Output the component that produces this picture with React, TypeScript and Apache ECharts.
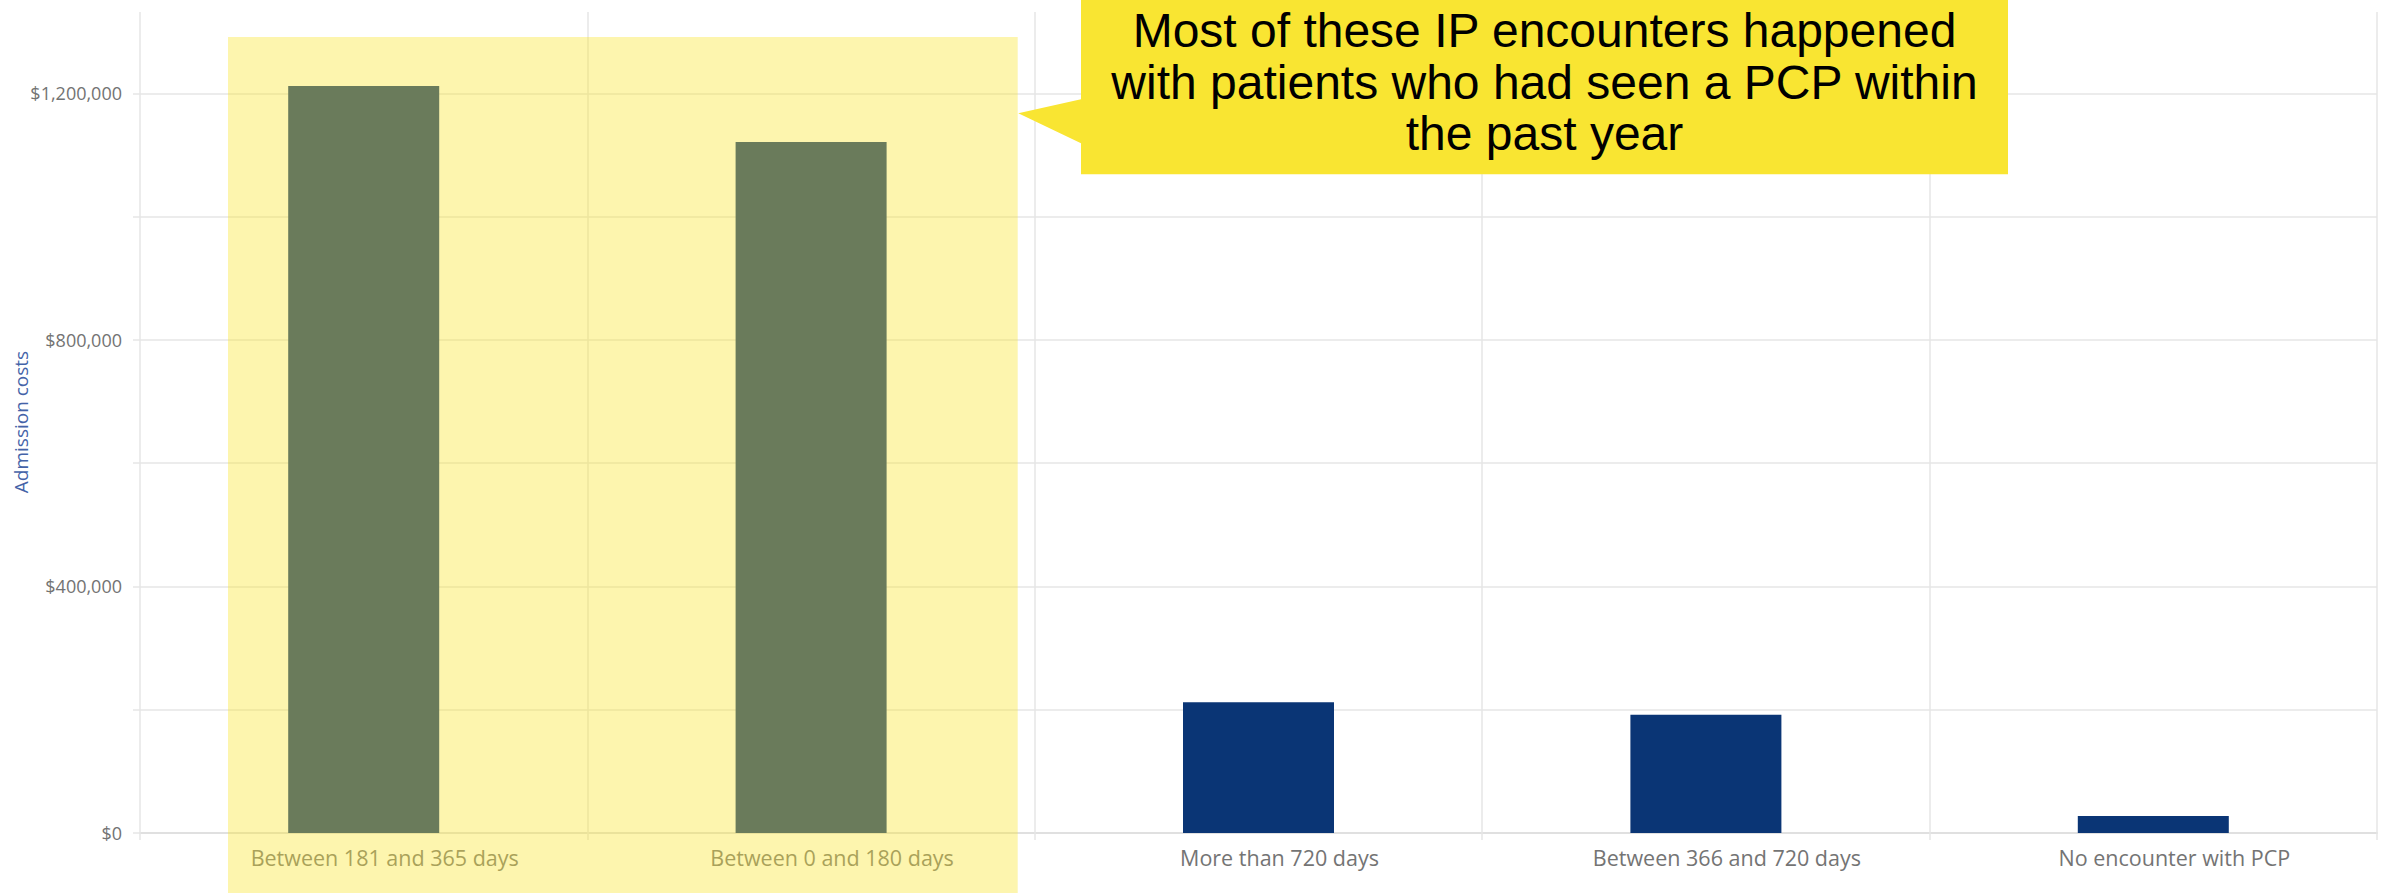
import React, { useEffect, useRef } from "react";
import * as echarts from "echarts";

const categories = [
  "Between 181 and 365 days",
  "Between 0 and 180 days",
  "More than 720 days",
  "Between 366 and 720 days",
  "No encounter with PCP",
];
const admissionCosts = [1212000, 1121000, 212000, 192000, 27500];
const yLabelledTicks = [0, 400000, 800000, 1200000];
const yAxisName = "Admission costs";
const calloutLines = [
  "Most of these IP encounters happened",
  "with patients who had seen a PCP within",
  "the past year",
];

const GRID = "#e6e6e6";
// the chart canvas is shifted up by OFF px so the unlabelled top gridline sits off-page
const OFF = 30;

export default function App() {
  const ref = useRef<HTMLDivElement>(null);
  useEffect(() => {
    document.body.style.margin = "0";
    document.body.style.overflow = "hidden";
    const chart = echarts.init(ref.current!, null, { renderer: "svg" });
    const fmt = (v: number) => "$" + v.toLocaleString("en-US");
    chart.setOption({
      animation: false,
      backgroundColor: "#ffffff",
      grid: {
        left: 140,
        right: 17,
        top: 0,
        bottom: 60,
        containLabel: false,
        outerBoundsMode: "none",
      },
      xAxis: [
        {
          type: "category",
          data: categories,
          boundaryGap: true,
          axisLine: { show: true, lineStyle: { color: "#e0e0e0", width: 2 } },
          axisTick: {
            show: true,
            inside: true,
            length: 821,
            interval: 0,
            lineStyle: { color: GRID, width: 1.5 },
          },
          axisLabel: {
            interval: 0,
            margin: 13,
            color: "#747474",
            fontFamily: "Open Sans",
            fontSize: 21.5,
            padding: [0, 0, 0, 42],
          },
          splitLine: { show: false },
        },
        {
          type: "category",
          data: categories,
          position: "bottom",
          axisLine: { show: false },
          axisTick: { show: true, length: 7, interval: 0, lineStyle: { color: GRID, width: 1.5 } },
          axisLabel: { show: false },
          splitLine: { show: false },
        },
      ],
      yAxis: {
        type: "value",
        min: 0,
        max: 1400000,
        interval: 200000,
        axisLine: { show: false },
        axisTick: { show: true, length: 7, lineStyle: { color: GRID, width: 1.5 } },
        splitLine: { show: true, lineStyle: { color: GRID, width: 1.5 } },
        axisLabel: {
          margin: 18,
          color: "#737373",
          fontFamily: "Open Sans",
          fontSize: 18,
          formatter: (v: number) => (yLabelledTicks.includes(v) ? fmt(v) : ""),
        },
      },
      series: [
        {
          type: "bar",
          data: admissionCosts,
          barWidth: 151,
          itemStyle: { color: "#0a3575" },
        },
      ],
      graphic: [
        {
          type: "rect",
          z: 100,
          shape: { x: 228, y: 37 + OFF, width: 789.7, height: 860 },
          style: { fill: "rgba(249,230,52,0.4)" },
        },
        {
          type: "polygon",
          z: 100,
          shape: {
            points: [
              [1081, 0],
              [2008, 0],
              [2008, 174.3 + OFF],
              [1081, 174.3 + OFF],
              [1081, 143.3 + OFF],
              [1018.3, 113.3 + OFF],
              [1081, 99.3 + OFF],
            ],
          },
          style: { fill: "#f9e532" },
        },
        {
          type: "text",
          z: 101,
          x: 1544.5,
          y: 82 + OFF,
          style: {
            text: calloutLines.join("\n"),
            fill: "#000000",
            font: "48px 'Liberation Sans', Arial, sans-serif",
            lineHeight: 51.5,
            align: "center",
            verticalAlign: "middle",
          },
        },
        {
          type: "text",
          z: 100,
          x: 21,
          y: 422 + OFF,
          rotation: Math.PI / 2,
          style: {
            text: yAxisName,
            fill: "#4463a8",
            font: "19px 'Open Sans', sans-serif",
            align: "center",
            verticalAlign: "middle",
          },
        },
      ],
    });
    return () => chart.dispose();
  }, []);
  return (
    <div
      ref={ref}
      style={{ position: "absolute", left: 0, top: -OFF, width: 2394, height: 893 + OFF }}
    />
  );
}
